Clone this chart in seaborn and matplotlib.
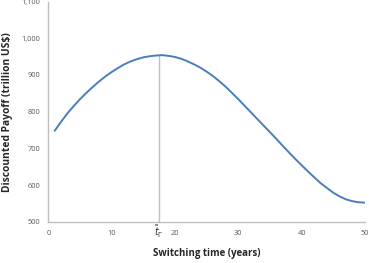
import numpy as np
import pandas as pd
import matplotlib
matplotlib.use("Agg")
import matplotlib.pyplot as plt
import seaborn as sns

# --- DATA (one value per year) ---
years = list(range(1, 51))
payoff = [748, 772, 795, 815, 834, 851, 867, 882, 896, 908,
          919, 929, 937, 943, 948, 951, 953, 954, 952, 949,
          944, 937, 929, 920, 909, 897, 883, 868, 851, 834,
          816, 798, 780, 762, 744, 726, 707, 689, 671, 654,
          637, 621, 605, 592, 579, 569, 561, 556, 553, 552]
t_switch = 17.5
t_switch_payoff = 954
x_ticks = [0, 10, 20, 30, 40, 50]
y_ticks = [500, 600, 700, 800, 900, 1000, 1100]

LINE_BLUE = "#4a7ebb"
GRID_GREY = "#bfbfbf"
TEXT_GREY = "#595959"

df = pd.DataFrame({"year": years, "payoff": payoff})

sns.set_style("white")
plt.rcParams['font.family'] = ['Open Sans', 'DejaVu Sans']

fig = plt.figure(figsize=(3.69, 2.63), dpi=100)
ax = fig.add_axes([0.131, 0.157, 0.858, 0.837])

sns.lineplot(data=df, x="year", y="payoff", color=LINE_BLUE, linewidth=1.4, ax=ax)
ax.plot([t_switch, t_switch], [500, t_switch_payoff], color=GRID_GREY, linewidth=1.0, zorder=1)

ax.set_xlim(0, 50)
ax.set_ylim(500, 1100)
ax.set_xticks(x_ticks)
ax.set_yticks(y_ticks)
ax.set_yticklabels([f"{v:,}" for v in y_ticks])

for side in ["top", "right"]:
    ax.spines[side].set_visible(False)
for side in ["left", "bottom"]:
    ax.spines[side].set_color(GRID_GREY)
    ax.spines[side].set_linewidth(1.0)

ax.tick_params(axis="both", direction="out", length=3, width=0.8, color=GRID_GREY,
               labelsize=5.3, labelcolor=TEXT_GREY, pad=3)

ax.set_xlabel("Switching time (years)", fontsize=7, fontweight="bold", labelpad=8)
ax.set_ylabel("Discounted Payoff (trillion US$)", fontsize=7.4, fontweight="bold", labelpad=6)

ax.text(t_switch, 497, r"$\tilde{t}_{\Gamma}$", ha="center", va="top", fontsize=7,
        color="#333333")

fig.savefig("out.png", dpi=100)
